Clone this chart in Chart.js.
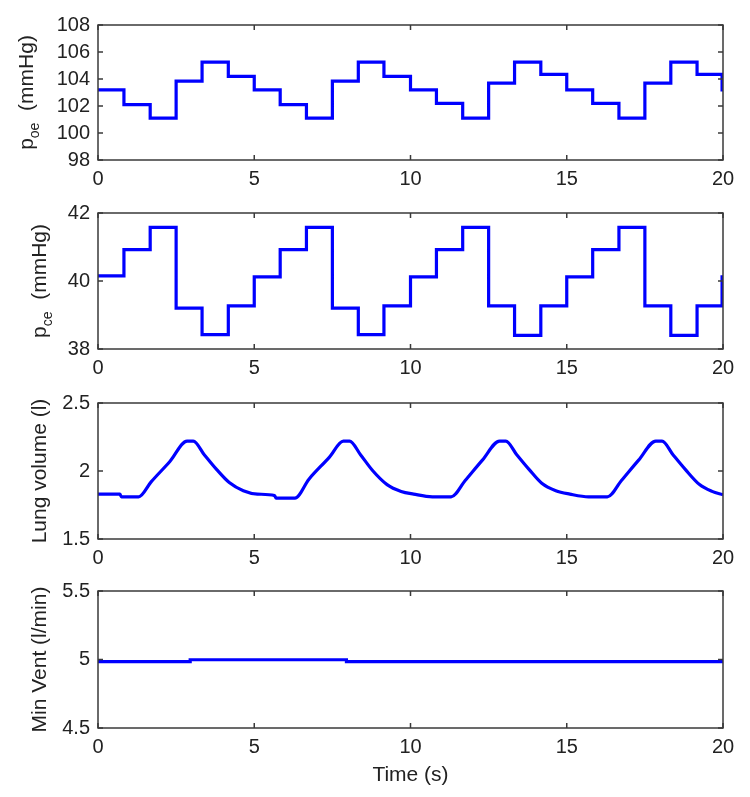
<!DOCTYPE html>
<html>
<head>
<meta charset="utf-8">
<title>Respiratory simulation</title>
<script src="https://cdn.jsdelivr.net/npm/chart.js@4/dist/chart.umd.min.js"></script>
<style>
  body { margin: 0; background: #fff; }
  #wrap { position: relative; width: 750px; height: 797px; }
  #wrap canvas { position: absolute; left: 0; }
</style>
</head>
<body>
<div id="wrap">
  <canvas id="poeChart" width="750" height="190" style="top:0"></canvas>
  <canvas id="pceChart" width="750" height="190" style="top:190px"></canvas>
  <canvas id="lungChart" width="750" height="190" style="top:380px"></canvas>
  <canvas id="ventChart" width="750" height="227" style="top:570px"></canvas>
</div>
<script>
// time axis
const timeTicks = [0, 5, 10, 15, 20];

// p_oe (mmHg), step changes
const poeTimes = [0, 0.83, 1.67, 2.5, 3.33, 4.17, 5.0, 5.83, 6.67, 7.5, 8.33, 9.15, 10.0,
  10.83, 11.67, 12.5, 13.33, 14.17, 15.0, 15.83, 16.67, 17.5, 18.33, 19.17, 19.97, 20];
const poeValues = [103.2, 102.1, 101.1, 103.85, 105.25, 104.2, 103.2, 102.1, 101.1, 103.85, 105.25, 104.2, 103.2,
  102.2, 101.1, 103.7, 105.25, 104.35, 103.2, 102.2, 101.1, 103.7, 105.25, 104.35, 103.2, 103.2];
const poeTicks = [98, 100, 102, 104, 106, 108];

// p_ce (mmHg), step changes
const pceTimes = [0, 0.83, 1.67, 2.5, 3.33, 4.17, 5.0, 5.83, 6.67, 7.5, 8.33, 9.15, 10.0,
  10.83, 11.67, 12.5, 13.33, 14.17, 15.0, 15.83, 16.67, 17.5, 18.33, 19.17, 19.97, 20];
const pceValues = [40.15, 40.92, 41.58, 39.2, 38.42, 39.27, 40.12, 40.92, 41.58, 39.2, 38.42, 39.27, 40.12,
  40.92, 41.58, 39.27, 38.4, 39.27, 40.12, 40.92, 41.58, 39.27, 38.4, 39.27, 40.12, 40.12];
const pceTicks = [38, 40, 42];

// lung volume (l)
const lungTimes = [0, 0.7, 0.75, 1.3, 1.7, 2.3, 2.85, 3.05, 3.4, 3.8, 4.2, 4.65, 5.1, 5.65, 5.7,
  6.3, 6.75, 7.4, 7.85, 8.05, 8.4, 8.8, 9.25, 9.7, 10.1, 10.7, 11.3, 11.75, 12.3, 12.85, 13.05,
  13.4, 13.8, 14.2, 14.65, 15.1, 15.7, 16.3, 16.75, 17.3, 17.85, 18.05, 18.4, 18.8, 19.25, 19.65, 20];
const lungValues = [1.83, 1.83, 1.81, 1.81, 1.92, 2.07, 2.22, 2.22, 2.12, 2.01, 1.915, 1.855, 1.83, 1.82, 1.80,
  1.80, 1.94, 2.10, 2.22, 2.22, 2.12, 2.0, 1.9, 1.85, 1.83, 1.81, 1.81, 1.93, 2.08, 2.22, 2.22,
  2.12, 2.01, 1.91, 1.855, 1.83, 1.81, 1.81, 1.93, 2.08, 2.22, 2.22, 2.12, 2.01, 1.9, 1.85, 1.825];
const lungTicks = [1.5, 2, 2.5];

// minute ventilation (l/min)
const ventTimes = [0, 2.95, 7.95, 20];
const ventValues = [4.985, 4.998, 4.985, 4.985];
const ventTicks = [4.5, 5, 5.5];

const FONT = '"Liberation Sans", Arial, sans-serif';
const INK = '#222';

// box round the plot and inward tick marks, like the original figure
const boxPlugin = {
  id: 'boxPlugin',
  afterDatasetsDraw(chart) {
    const { ctx, chartArea: a, scales: { x, y } } = chart;
    ctx.save();
    ctx.strokeStyle = '#3a3a3a';
    ctx.lineWidth = 1.5;
    ctx.strokeRect(a.left, a.top, a.right - a.left, a.bottom - a.top);
    ctx.beginPath();
    x.ticks.forEach(t => {
      const px = x.getPixelForValue(t.value);
      ctx.moveTo(px, a.bottom); ctx.lineTo(px, a.bottom - 5);
      ctx.moveTo(px, a.top); ctx.lineTo(px, a.top + 5);
    });
    y.ticks.forEach(t => {
      const py = y.getPixelForValue(t.value);
      ctx.moveTo(a.left, py); ctx.lineTo(a.left + 5, py);
      ctx.moveTo(a.right, py); ctx.lineTo(a.right - 5, py);
    });
    ctx.stroke();
    ctx.restore();
  }
};

// y title with an optional subscript
const yTitlePlugin = {
  id: 'yTitle',
  afterDraw(chart, args, o) {
    if (!o.main) return;
    const { ctx, chartArea: a } = chart;
    const big = '21px ' + FONT;
    const small = '14px ' + FONT;
    ctx.save();
    ctx.font = big;
    const w1 = ctx.measureText(o.main).width;
    const w3 = ctx.measureText(o.rest || '').width;
    ctx.font = small;
    const w2 = o.sub ? ctx.measureText(o.sub).width : 0;
    ctx.translate(o.x, (a.top + a.bottom) / 2);
    ctx.rotate(-Math.PI / 2);
    ctx.fillStyle = INK;
    ctx.textBaseline = 'alphabetic';
    let pos = -(w1 + w2 + w3) / 2;
    ctx.font = big;
    ctx.fillText(o.main, pos, 0);
    pos += w1;
    if (o.sub) {
      ctx.font = small;
      ctx.fillText(o.sub, pos, 6);
      pos += w2;
    }
    if (o.rest) {
      ctx.font = big;
      ctx.fillText(o.rest, pos, 0);
    }
    ctx.restore();
  }
};

function points(times, values) {
  return times.map((t, i) => ({ x: t, y: values[i] }));
}

function makePanel(id, data, yTicks, title, layout) {
  const ds = {
    data: data.points,
    borderColor: '#0000ff',
    borderWidth: 3.2,
    pointRadius: 0,
    fill: false
  };
  if (data.stepped) ds.stepped = 'before';
  else ds.cubicInterpolationMode = 'monotone';

  return new Chart(document.getElementById(id), {
    type: 'line',
    data: { datasets: [ds] },
    options: {
      responsive: false,
      animation: false,
      layout: { padding: { top: layout.top, right: 27, left: 0, bottom: 0 } },
      plugins: {
        legend: { display: false },
        tooltip: { enabled: false },
        yTitle: title
      },
      scales: {
        x: {
          type: 'linear',
          min: 0,
          max: 20,
          afterBuildTicks: s => { s.ticks = timeTicks.map(v => ({ value: v })); },
          afterFit: s => { s.height = layout.xHeight; },
          grid: { display: false, drawTicks: false },
          border: { display: false },
          ticks: { color: INK, font: { family: FONT, size: 20 }, padding: 7, maxRotation: 0 },
          title: {
            display: !!layout.xTitle,
            text: layout.xTitle || '',
            color: INK,
            font: { family: FONT, size: 21 },
            padding: { top: 0, bottom: 9 }
          }
        },
        y: {
          min: yTicks[0],
          max: yTicks[yTicks.length - 1],
          afterBuildTicks: s => { s.ticks = yTicks.map(v => ({ value: v })); },
          afterFit: s => { s.width = 98; },
          grid: { display: false, drawTicks: false },
          border: { display: false },
          ticks: {
            color: INK,
            font: { family: FONT, size: 20 },
            padding: 8,
            callback: v => String(v)
          }
        }
      }
    },
    plugins: [boxPlugin, yTitlePlugin]
  });
}

makePanel('poeChart', { points: points(poeTimes, poeValues), stepped: true }, poeTicks,
  { main: 'p', sub: 'oe', rest: '  (mmHg)', x: 33 }, { top: 25, xHeight: 30 });
makePanel('pceChart', { points: points(pceTimes, pceValues), stepped: true }, pceTicks,
  { main: 'p', sub: 'ce', rest: '  (mmHg)', x: 46 }, { top: 23, xHeight: 31 });
makePanel('lungChart', { points: points(lungTimes, lungValues), stepped: false }, lungTicks,
  { main: 'Lung volume (l)', x: 46 }, { top: 23, xHeight: 31 });
makePanel('ventChart', { points: points(ventTimes, ventValues), stepped: true }, ventTicks,
  { main: 'Min Vent (l/min)', x: 46 }, { top: 21, xHeight: 69, xTitle: 'Time (s)' });
</script>
</body>
</html>
